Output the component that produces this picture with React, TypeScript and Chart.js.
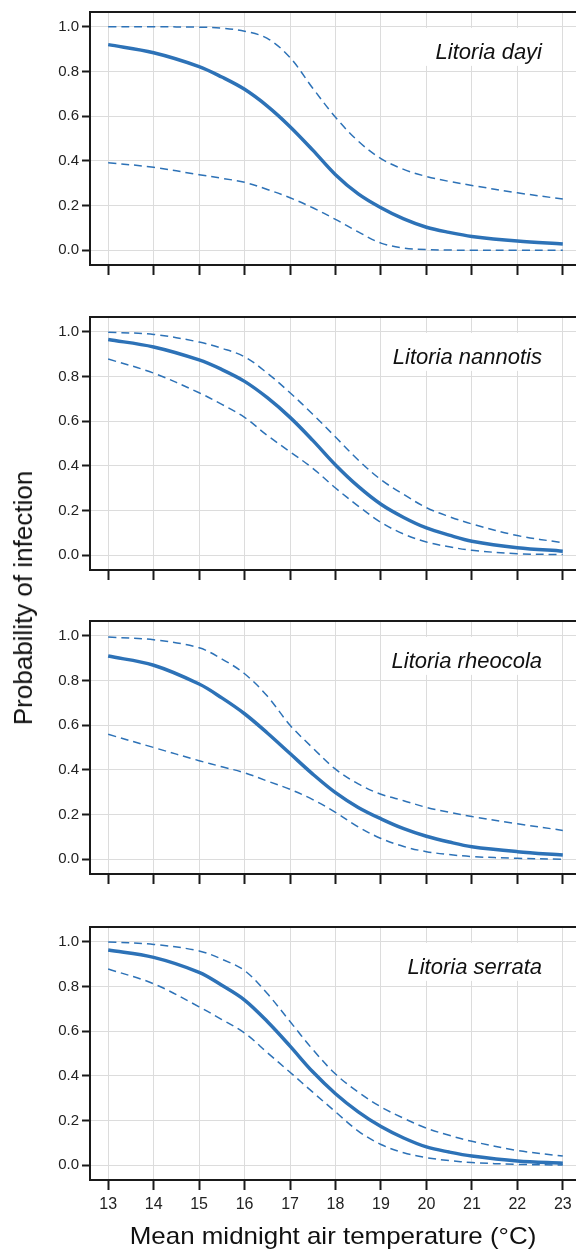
import React, { useEffect, useRef } from "react";
import { Chart, registerables } from "chart.js";

Chart.register(...registerables);

// ---------- data ----------
const temps = [13, 14, 15, 15.5, 16, 16.5, 17, 17.5, 18, 18.5, 19, 19.5, 20, 20.5, 21, 22, 23];
const xTickValues = [13, 14, 15, 16, 17, 18, 19, 20, 21, 22, 23];
const yTickValues = [0.0, 0.2, 0.4, 0.6, 0.8, 1.0];

const speciesNames = ["Litoria dayi", "Litoria nannotis", "Litoria rheocola", "Litoria serrata"];

const dayiMean = [0.92, 0.884, 0.822, 0.775, 0.72, 0.645, 0.553, 0.448, 0.338, 0.252, 0.19, 0.14, 0.103, 0.08, 0.062, 0.041, 0.028];
const dayiUpper = [1.0, 1.0, 0.998, 0.994, 0.98, 0.948, 0.862, 0.725, 0.595, 0.488, 0.41, 0.362, 0.33, 0.308, 0.29, 0.257, 0.229];
const dayiLower = [0.392, 0.371, 0.338, 0.322, 0.304, 0.272, 0.235, 0.19, 0.138, 0.082, 0.032, 0.01, 0.003, 0.001, 0.0, 0.0, 0.0];

const nannotisMean = [0.965, 0.932, 0.874, 0.831, 0.778, 0.705, 0.617, 0.514, 0.404, 0.308, 0.228, 0.169, 0.122, 0.09, 0.063, 0.034, 0.018];
const nannotisUpper = [0.998, 0.988, 0.954, 0.926, 0.888, 0.815, 0.727, 0.631, 0.529, 0.426, 0.338, 0.272, 0.213, 0.173, 0.14, 0.088, 0.056];
const nannotisLower = [0.878, 0.815, 0.727, 0.675, 0.617, 0.536, 0.463, 0.389, 0.301, 0.22, 0.147, 0.095, 0.059, 0.038, 0.022, 0.007, 0.003];

const rheocolaMean = [0.909, 0.868, 0.784, 0.722, 0.651, 0.565, 0.473, 0.381, 0.298, 0.232, 0.181, 0.137, 0.103, 0.077, 0.056, 0.034, 0.019];
const rheocolaUpper = [0.994, 0.982, 0.946, 0.896, 0.83, 0.73, 0.6, 0.498, 0.403, 0.337, 0.291, 0.262, 0.232, 0.21, 0.191, 0.159, 0.129];
const rheocolaLower = [0.559, 0.5, 0.441, 0.414, 0.387, 0.35, 0.313, 0.267, 0.21, 0.145, 0.093, 0.057, 0.034, 0.021, 0.012, 0.004, 0.0];

const serrataMean = [0.963, 0.93, 0.863, 0.805, 0.739, 0.643, 0.533, 0.418, 0.32, 0.239, 0.173, 0.122, 0.082, 0.059, 0.041, 0.019, 0.009];
const serrataUpper = [0.999, 0.988, 0.959, 0.922, 0.871, 0.768, 0.643, 0.518, 0.408, 0.327, 0.261, 0.21, 0.166, 0.134, 0.107, 0.066, 0.041];
const serrataLower = [0.878, 0.812, 0.709, 0.652, 0.592, 0.504, 0.416, 0.327, 0.239, 0.153, 0.093, 0.056, 0.034, 0.021, 0.012, 0.004, 0.001];

const yTitle = "Probability of infection";
const xTitle = "Mean midnight air temperature (\u00B0C)";

// ---------- style ----------
const FONT = "'Liberation Sans', Arial, Helvetica, sans-serif";
const BLUE = "#2d72b7";
const GRID = "#dcdcdc";
const INK = "#1a1a1a";

Chart.defaults.font.family = FONT;

type PanelProps = {
  name: string;
  mean: number[];
  upper: number[];
  lower: number[];
  showX: boolean;
  top: number;
};

const toPts = (vals: number[]) => temps.map((t, i) => ({ x: t, y: vals[i] }));

function Panel({ name, mean, upper, lower, showX, top }: PanelProps) {
  const ref = useRef<HTMLCanvasElement | null>(null);
  const W = 600;
  const H = showX ? 342 : 280;

  useEffect(() => {
    if (!ref.current) return;

    const labelPlugin = {
      id: "speciesLabel",
      beforeDatasetsDraw(chart: any) {
        const { ctx, chartArea, scales } = chart;
        ctx.save();
        ctx.font = `italic 22px ${FONT}`;
        const w = ctx.measureText(name).width;
        const right = 542;
        const yTop = scales.y.getPixelForValue(0.995);
        const yBot = scales.y.getPixelForValue(0.825);
        ctx.fillStyle = "#ffffff";
        ctx.fillRect(right - w - 10, yTop, w + 21, yBot - yTop);
        ctx.fillStyle = "#111";
        ctx.textAlign = "right";
        ctx.textBaseline = "alphabetic";
        ctx.fillText(name, right, chartArea.top + 46.5);
        ctx.restore();
      },
    };

    const framePlugin = {
      id: "frame",
      afterDraw(chart: any) {
        const { ctx, chartArea } = chart;
        ctx.save();
        ctx.strokeStyle = INK;
        ctx.lineWidth = 2;
        ctx.strokeRect(chartArea.left, chartArea.top, chartArea.right - chartArea.left, chartArea.bottom - chartArea.top);
        ctx.restore();
      },
    };

    const dashed = {
      borderColor: BLUE,
      borderWidth: 1.5,
      borderDash: [8, 5],
      pointRadius: 0,
      fill: false,
      tension: 0.35,
    };

    const chart = new Chart(ref.current, {
      type: "line",
      data: {
        datasets: [
          { ...dashed, label: "upper", data: toPts(upper) },
          { ...dashed, label: "lower", data: toPts(lower) },
          {
            label: "mean",
            data: toPts(mean),
            borderColor: BLUE,
            borderWidth: 3.5,
            pointRadius: 0,
            fill: false,
            tension: 0.35,
          },
        ],
      },
      options: {
        animation: false,
        responsive: false,
        devicePixelRatio: 1,
        layout: { padding: { top: 8, left: 0, right: 19, bottom: 0 } },
        plugins: { legend: { display: false }, tooltip: { enabled: false } },
        scales: {
          x: {
            type: "linear",
            min: 12.6,
            max: 23.4,
            afterFit: (s: any) => {
              s.height = showX ? 77 : 15;
            },
            afterBuildTicks: (s: any) => {
              s.ticks = xTickValues.map((v) => ({ value: v }));
            },
            ticks: {
              display: showX,
              autoSkip: false,
              maxRotation: 0,
              padding: 5,
              color: "#222",
              font: { size: 16, family: FONT },
              callback: (v: any) => String(v),
            },
            grid: {
              color: GRID,
              lineWidth: 1,
              drawTicks: true,
              tickColor: INK,
              tickWidth: 2,
              tickLength: 10,
            },
            border: { display: false },
            title: { display: false },
          },
          y: {
            type: "linear",
            min: -0.066,
            max: 1.066,
            afterFit: (s: any) => {
              s.width = 90;
            },
            afterBuildTicks: (s: any) => {
              s.ticks = yTickValues.map((v) => ({ value: v }));
            },
            ticks: {
              padding: 3,
              color: "#222",
              font: { size: 15, family: FONT },
              callback: (v: any) => Number(v).toFixed(1),
            },
            grid: {
              color: GRID,
              lineWidth: 1,
              drawTicks: true,
              tickColor: INK,
              tickWidth: 2,
              tickLength: 8,
            },
            border: { display: false },
          },
        },
      },
      plugins: [labelPlugin, framePlugin],
    } as any);

    return () => chart.destroy();
  }, [name, mean, upper, lower, showX]);

  return (
    <canvas
      ref={ref}
      width={W}
      height={H}
      style={{ position: "absolute", left: 0, top: top - 8, width: W, height: H }}
    />
  );
}

export default function App() {
  const panels = [
    { name: speciesNames[0], mean: dayiMean, upper: dayiUpper, lower: dayiLower, top: 8 },
    { name: speciesNames[1], mean: nannotisMean, upper: nannotisUpper, lower: nannotisLower, top: 313 },
    { name: speciesNames[2], mean: rheocolaMean, upper: rheocolaUpper, lower: rheocolaLower, top: 617 },
    { name: speciesNames[3], mean: serrataMean, upper: serrataUpper, lower: serrataLower, top: 923 },
  ];
  return (
    <div
      style={{
        position: "fixed",
        left: 0,
        top: 0,
        width: 576,
        height: 1257,
        overflow: "hidden",
        background: "#fff",
        fontFamily: FONT,
      }}
    >
      {panels.map((p, i) => (
        <Panel key={p.name} {...p} showX={i === panels.length - 1} />
      ))}
      <div
        style={{
          position: "absolute",
          left: 23,
          top: 598,
          transform: "translate(-50%, -50%) rotate(-90deg)",
          whiteSpace: "nowrap",
          fontSize: 26,
          lineHeight: 1,
          color: "#111",
        }}
      >
        {yTitle}
      </div>
      <div
        style={{
          position: "absolute",
          left: 333,
          top: 1236,
          transform: "translate(-50%, -50%) scaleX(1.08)",
          whiteSpace: "nowrap",
          fontSize: 24,
          lineHeight: 1,
          color: "#111",
        }}
      >
        {xTitle}
      </div>
    </div>
  );
}
